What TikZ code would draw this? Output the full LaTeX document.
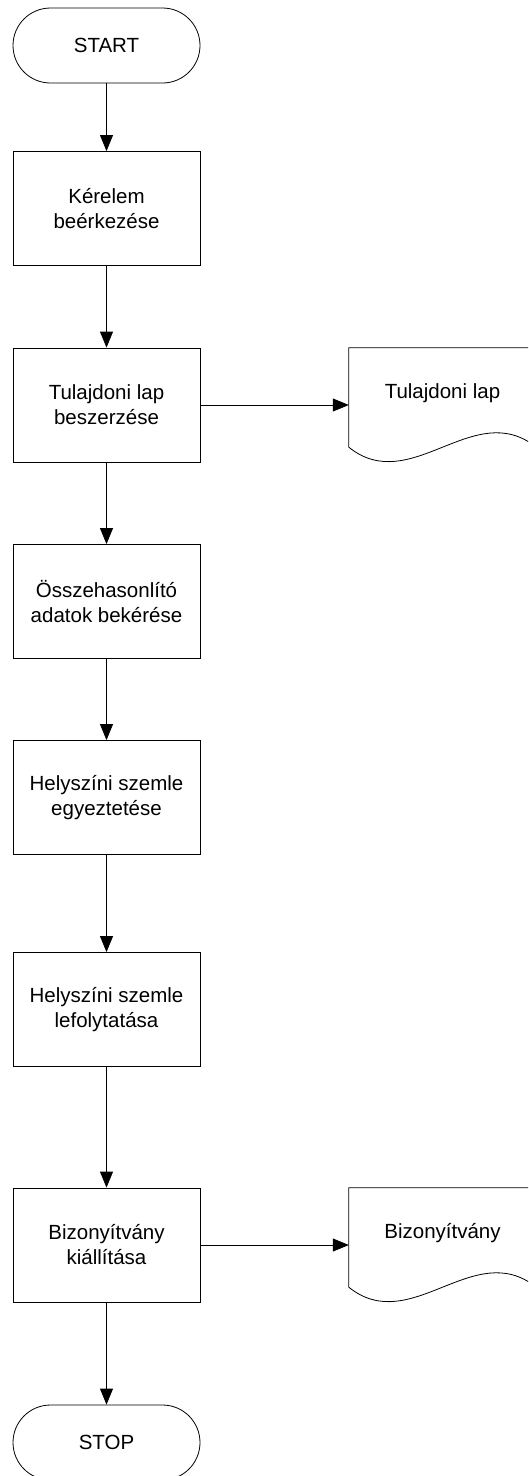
\documentclass[tikz,border=0pt]{standalone}
\usepackage{fontspec}
\setmainfont{Liberation Sans}
\usetikzlibrary{arrows.meta,calc}
\begin{document}
\begin{tikzpicture}[x=1pt,y=-1pt,
  every node/.style={font=\fontsize{20.5}{25}\selectfont},
  proc/.style={draw, line width=0.8pt, minimum width=187pt, minimum height=114pt, align=center, inner sep=0pt},
  term/.style={draw, line width=0.8pt, rounded corners=37.5pt, minimum width=187pt, minimum height=75pt, inner sep=0pt},
  docarea/.style={minimum width=187pt, minimum height=99pt, inner sep=0pt, text height=14pt, text depth=13pt},
  flow/.style={line width=0.8pt, -{Triangle[length=16pt,width=13pt]}},
  docline/.style={line width=0.8pt, line join=miter}
]
\useasboundingbox (0,0) rectangle (528,1476);
\clip (0,0) rectangle (528,1476);

% main column
\node[term] (start) at (106.5,45.5) {START};
\node[proc] (k1) at (106.5,208.5) {Kérelem\\beérkezése};
\node[proc] (k2) at (106.5,405) {Tulajdoni lap\\beszerzése};
\node[proc] (k3) at (106.5,601.5) {Összehasonlító\\adatok bekérése};
\node[proc] (k4) at (106.5,797.5) {Helyszíni szemle\\egyeztetése};
\node[proc] (k5) at (106.5,1009.5) {Helyszíni szemle\\lefolytatása};
\node[proc] (k6) at (106.5,1245) {Bizonyítvány\\kiállítása};
\node[term] (stop) at (106.5,1442.5) {STOP};

% documents
\node[docarea] (d1) at (442.5,397.5) {Tulajdoni lap};
\node[docarea] (d2) at (442.5,1237.5) {Bizonyítvány};
\foreach \d in {d1,d2}{
  \draw[docline] (\d.south west) -- (\d.north west) -- (\d.north east) -- (\d.south east)
    .. controls ($(\d.south east)+(-62.3,-50)$) and ($(\d.south west)+(62.3,50)$) .. (\d.south west) -- cycle;
}

% connectors
\draw[flow] (start.south) -- (k1.north);
\draw[flow] (k1.south) -- (k2.north);
\draw[flow] (k2.south) -- (k3.north);
\draw[flow] (k3.south) -- (k4.north);
\draw[flow] (k4.south) -- (k5.north);
\draw[flow] (k5.south) -- (k6.north);
\draw[flow] (k6.south) -- (stop.north);
\draw[flow] (k2.east) -- (k2.east -| d1.west);
\draw[flow] (k6.east) -- (k6.east -| d2.west);
\end{tikzpicture}
\end{document}
